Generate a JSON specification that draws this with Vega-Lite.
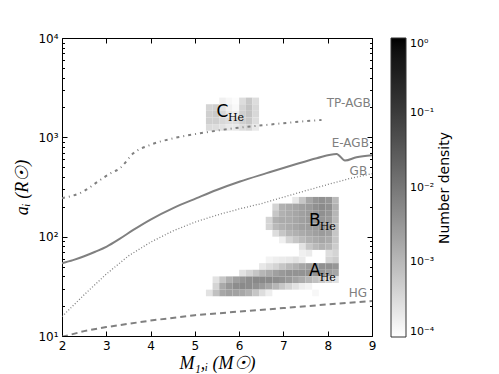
{
"$schema": "https://vega.github.io/schema/vega-lite/v6.json",
"width": 310, "height": 298,
"autosize": {"type": "none"},
"padding": {"left": 62, "top": 38, "right": 127, "bottom": 38},
"background": "#ffffff",
"config": {"view": {"stroke": "#000000", "strokeWidth": 1}, "font": "DejaVu Sans"},
"datasets": {
"cols": [{"c":0,"m0":5.25,"m1":5.4},{"c":1,"m0":5.4,"m1":5.55},{"c":2,"m0":5.55,"m1":5.7},{"c":3,"m0":5.7,"m1":5.85},{"c":4,"m0":5.85,"m1":6.0},{"c":5,"m0":6.0,"m1":6.15},{"c":6,"m0":6.15,"m1":6.3},{"c":7,"m0":6.3,"m1":6.45},{"c":8,"m0":6.45,"m1":6.6},{"c":9,"m0":6.6,"m1":6.75},{"c":10,"m0":6.75,"m1":6.9},{"c":11,"m0":6.9,"m1":7.05},{"c":12,"m0":7.05,"m1":7.2},{"c":13,"m0":7.2,"m1":7.35},{"c":14,"m0":7.35,"m1":7.5},{"c":15,"m0":7.5,"m1":7.65},{"c":16,"m0":7.65,"m1":7.8},{"c":17,"m0":7.8,"m1":7.95},{"c":18,"m0":7.95,"m1":8.1},{"c":19,"m0":8.1,"m1":8.25}],
"rows": [{"r":-9,"a0":25.12,"a1":29.29},{"r":-8,"a0":29.29,"a1":34.15},{"r":-7,"a0":34.15,"a1":39.81},{"r":-6,"a0":39.81,"a1":46.42},{"r":-5,"a0":46.42,"a1":54.12},{"r":-4,"a0":54.12,"a1":63.1},{"r":-3,"a0":63.1,"a1":73.56},{"r":-2,"a0":73.56,"a1":85.77},{"r":-1,"a0":85.77,"a1":100},{"r":0,"a0":100,"a1":116.6},{"r":1,"a0":116.6,"a1":135.9},{"r":2,"a0":135.9,"a1":158.5},{"r":3,"a0":158.5,"a1":184.8},{"r":4,"a0":184.8,"a1":215.4},{"r":5,"a0":215.4,"a1":251.2},{"r":16,"a0":1166,"a1":1359},{"r":17,"a0":1359,"a1":1585},{"r":18,"a0":1585,"a1":1848},{"r":19,"a0":1848,"a1":2154},{"r":20,"a0":2154,"a1":2512}],
"cells": [
{"c":2,"r":20,"d":0.00016},{"c":3,"r":20,"d":0.00013},{"c":4,"r":20,"d":0.00011},{"c":5,"r":20,"d":0.0003},{"c":6,"r":20,"d":0.0006},{"c":7,"r":20,"d":0.0003},
{"c":0,"r":19,"d":0.0004},{"c":1,"r":19,"d":0.00048},{"c":2,"r":19,"d":0.00025},{"c":3,"r":19,"d":0.00016},{"c":4,"r":19,"d":0.00012},{"c":5,"r":19,"d":0.0004},{"c":6,"r":19,"d":0.0007},{"c":7,"r":19,"d":0.00035},
{"c":0,"r":18,"d":0.00048},{"c":1,"r":18,"d":0.00058},{"c":2,"r":18,"d":0.00035},{"c":3,"r":18,"d":0.0002},{"c":4,"r":18,"d":0.00017},{"c":5,"r":18,"d":0.00048},{"c":6,"r":18,"d":0.0007},{"c":7,"r":18,"d":0.00035},
{"c":0,"r":17,"d":0.00048},{"c":1,"r":17,"d":0.00048},{"c":2,"r":17,"d":0.00035},{"c":3,"r":17,"d":0.0003},{"c":4,"r":17,"d":0.0003},{"c":5,"r":17,"d":0.00048},{"c":6,"r":17,"d":0.0006},{"c":7,"r":17,"d":0.0003},
{"c":0,"r":16,"d":0.00032},{"c":1,"r":16,"d":0.0003},{"c":2,"r":16,"d":0.00025},{"c":3,"r":16,"d":0.0002},{"c":4,"r":16,"d":0.0002},{"c":5,"r":16,"d":0.0003},{"c":6,"r":16,"d":0.00035},{"c":7,"r":16,"d":0.0002},
{"c":13,"r":5,"d":0.00021},{"c":14,"r":5,"d":0.00063},{"c":15,"r":5,"d":0.0019},{"c":16,"r":5,"d":0.0033},{"c":17,"r":5,"d":0.004},{"c":18,"r":5,"d":0.0033},{"c":19,"r":5,"d":0.001},
{"c":10,"r":4,"d":0.0004},{"c":11,"r":4,"d":0.0013},{"c":12,"r":4,"d":0.0016},{"c":13,"r":4,"d":0.0019},{"c":14,"r":4,"d":0.0023},{"c":15,"r":4,"d":0.00275},{"c":16,"r":4,"d":0.004},{"c":17,"r":4,"d":0.0048},{"c":18,"r":4,"d":0.004},{"c":19,"r":4,"d":0.0013},
{"c":10,"r":3,"d":0.00063},{"c":11,"r":3,"d":0.0013},{"c":12,"r":3,"d":0.0016},{"c":13,"r":3,"d":0.0019},{"c":14,"r":3,"d":0.0023},{"c":15,"r":3,"d":0.00275},{"c":16,"r":3,"d":0.0033},{"c":17,"r":3,"d":0.004},{"c":18,"r":3,"d":0.0033},{"c":19,"r":3,"d":0.0011},
{"c":9,"r":2,"d":0.0004},{"c":10,"r":2,"d":0.0013},{"c":11,"r":2,"d":0.0016},{"c":12,"r":2,"d":0.0016},{"c":13,"r":2,"d":0.0019},{"c":14,"r":2,"d":0.0023},{"c":15,"r":2,"d":0.00275},{"c":16,"r":2,"d":0.0033},{"c":17,"r":2,"d":0.0033},{"c":18,"r":2,"d":0.00275},{"c":19,"r":2,"d":0.001},
{"c":9,"r":1,"d":0.0004},{"c":10,"r":1,"d":0.001},{"c":11,"r":1,"d":0.0013},{"c":12,"r":1,"d":0.0016},{"c":13,"r":1,"d":0.0019},{"c":14,"r":1,"d":0.0023},{"c":15,"r":1,"d":0.0025},{"c":16,"r":1,"d":0.00275},{"c":17,"r":1,"d":0.0033},{"c":18,"r":1,"d":0.0025},{"c":19,"r":1,"d":0.00076},
{"c":10,"r":0,"d":0.0003},{"c":11,"r":0,"d":0.00063},{"c":12,"r":0,"d":0.0011},{"c":13,"r":0,"d":0.0013},{"c":14,"r":0,"d":0.0016},{"c":15,"r":0,"d":0.0019},{"c":16,"r":0,"d":0.0023},{"c":17,"r":0,"d":0.00275},{"c":18,"r":0,"d":0.0023},{"c":19,"r":0,"d":0.00063},
{"c":11,"r":-1,"d":0.00016},{"c":12,"r":-1,"d":0.0004},{"c":13,"r":-1,"d":0.00063},{"c":14,"r":-1,"d":0.00091},{"c":15,"r":-1,"d":0.0013},{"c":16,"r":-1,"d":0.0016},{"c":17,"r":-1,"d":0.0019},{"c":18,"r":-1,"d":0.0016},{"c":19,"r":-1,"d":0.00063},
{"c":14,"r":-2,"d":0.00025},{"c":15,"r":-2,"d":0.00063},{"c":16,"r":-2,"d":0.001},{"c":17,"r":-2,"d":0.0013},{"c":18,"r":-2,"d":0.0011},{"c":19,"r":-2,"d":0.00052},
{"c":14,"r":-3,"d":0.00016},{"c":15,"r":-3,"d":0.00019},{"c":18,"r":-3,"d":0.0003},{"c":19,"r":-3,"d":0.0004},
{"c":9,"r":-4,"d":0.000145},{"c":10,"r":-4,"d":0.00017},{"c":11,"r":-4,"d":0.00019},{"c":12,"r":-4,"d":0.00021},{"c":13,"r":-4,"d":0.00025},{"c":14,"r":-4,"d":0.00019},{"c":18,"r":-4,"d":0.0004},{"c":19,"r":-4,"d":0.00052},
{"c":8,"r":-5,"d":0.00021},{"c":9,"r":-5,"d":0.0003},{"c":10,"r":-5,"d":0.0004},{"c":11,"r":-5,"d":0.00063},{"c":12,"r":-5,"d":0.001},{"c":13,"r":-5,"d":0.0013},{"c":14,"r":-5,"d":0.0019},{"c":15,"r":-5,"d":0.0025},{"c":16,"r":-5,"d":0.003},{"c":17,"r":-5,"d":0.004},{"c":18,"r":-5,"d":0.004},{"c":19,"r":-5,"d":0.0033},
{"c":5,"r":-6,"d":0.00025},{"c":6,"r":-6,"d":0.0004},{"c":7,"r":-6,"d":0.00063},{"c":8,"r":-6,"d":0.0011},{"c":9,"r":-6,"d":0.0016},{"c":10,"r":-6,"d":0.0023},{"c":11,"r":-6,"d":0.003},{"c":12,"r":-6,"d":0.0037},{"c":13,"r":-6,"d":0.0037},{"c":14,"r":-6,"d":0.0037},{"c":15,"r":-6,"d":0.0037},{"c":16,"r":-6,"d":0.0037},{"c":17,"r":-6,"d":0.0033},{"c":18,"r":-6,"d":0.0025},{"c":19,"r":-6,"d":0.0019},
{"c":1,"r":-7,"d":0.00025},{"c":2,"r":-7,"d":0.00063},{"c":3,"r":-7,"d":0.0014},{"c":4,"r":-7,"d":0.0024},{"c":5,"r":-7,"d":0.0034},{"c":6,"r":-7,"d":0.0045},{"c":7,"r":-7,"d":0.0052},{"c":8,"r":-7,"d":0.0052},{"c":9,"r":-7,"d":0.005},{"c":10,"r":-7,"d":0.0045},{"c":11,"r":-7,"d":0.0038},{"c":12,"r":-7,"d":0.003},{"c":13,"r":-7,"d":0.0022},{"c":14,"r":-7,"d":0.0016},{"c":15,"r":-7,"d":0.0011},{"c":16,"r":-7,"d":0.00076},{"c":17,"r":-7,"d":0.00052},{"c":18,"r":-7,"d":0.00036},{"c":19,"r":-7,"d":0.00025},
{"c":1,"r":-8,"d":0.0004},{"c":2,"r":-8,"d":0.0017},{"c":3,"r":-8,"d":0.0032},{"c":4,"r":-8,"d":0.0045},{"c":5,"r":-8,"d":0.005},{"c":6,"r":-8,"d":0.0045},{"c":7,"r":-8,"d":0.0038},{"c":8,"r":-8,"d":0.0028},{"c":9,"r":-8,"d":0.0018},{"c":10,"r":-8,"d":0.0011},{"c":11,"r":-8,"d":0.00063},{"c":12,"r":-8,"d":0.0004},{"c":13,"r":-8,"d":0.00025},{"c":14,"r":-8,"d":0.00017},{"c":15,"r":-8,"d":0.000145},
{"c":0,"r":-9,"d":0.00025},{"c":1,"r":-9,"d":0.00076},{"c":2,"r":-9,"d":0.0018},{"c":3,"r":-9,"d":0.0023},{"c":4,"r":-9,"d":0.0022},{"c":5,"r":-9,"d":0.0018},{"c":6,"r":-9,"d":0.0013},{"c":7,"r":-9,"d":0.00063},{"c":8,"r":-9,"d":0.0003},{"c":9,"r":-9,"d":0.00017},{"c":16,"r":-9,"d":0.00013}
],
"curves": [
{"s":"HG","m":2.0,"a":9.8},{"s":"HG","m":2.5,"a":11.2},{"s":"HG","m":3.0,"a":12.3},{"s":"HG","m":4.0,"a":14.3},{"s":"HG","m":5.0,"a":16.2},{"s":"HG","m":6.0,"a":17.6},{"s":"HG","m":7.0,"a":19.1},{"s":"HG","m":8.0,"a":20.8},{"s":"HG","m":9.0,"a":22.5},
{"s":"GB","m":2.0,"a":15.7},{"s":"GB","m":2.5,"a":26},{"s":"GB","m":3.0,"a":42},{"s":"GB","m":3.5,"a":64},{"s":"GB","m":4.0,"a":88},{"s":"GB","m":4.5,"a":114},{"s":"GB","m":5.0,"a":140},{"s":"GB","m":5.5,"a":165},{"s":"GB","m":6.0,"a":190},{"s":"GB","m":6.5,"a":215},{"s":"GB","m":7.0,"a":250},{"s":"GB","m":7.5,"a":290},{"s":"GB","m":8.0,"a":335},{"s":"GB","m":8.5,"a":385},{"s":"GB","m":9.0,"a":430},
{"s":"EAGB","m":2.0,"a":54},{"s":"EAGB","m":2.25,"a":58},{"s":"EAGB","m":2.5,"a":63.5},{"s":"EAGB","m":2.75,"a":70.5},{"s":"EAGB","m":3.01,"a":79.5},{"s":"EAGB","m":3.3,"a":95},{"s":"EAGB","m":3.61,"a":117},{"s":"EAGB","m":3.99,"a":148},{"s":"EAGB","m":4.51,"a":194},{"s":"EAGB","m":5.04,"a":244},{"s":"EAGB","m":5.49,"a":295},{"s":"EAGB","m":6.02,"a":359},{"s":"EAGB","m":6.62,"a":436},{"s":"EAGB","m":7.22,"a":527},{"s":"EAGB","m":7.75,"a":617},{"s":"EAGB","m":8.2,"a":681},{"s":"EAGB","m":8.39,"a":584},{"s":"EAGB","m":8.65,"a":630},{"s":"EAGB","m":9.0,"a":660},
{"s":"TPAGB","m":2.0,"a":244},{"s":"TPAGB","m":2.48,"a":285},{"s":"TPAGB","m":2.86,"a":372},{"s":"TPAGB","m":3.08,"a":430},{"s":"TPAGB","m":3.31,"a":489},{"s":"TPAGB","m":3.61,"a":690},{"s":"TPAGB","m":3.99,"a":838},{"s":"TPAGB","m":4.51,"a":977},{"s":"TPAGB","m":5.12,"a":1099},{"s":"TPAGB","m":5.87,"a":1232},{"s":"TPAGB","m":6.62,"a":1334},{"s":"TPAGB","m":7.37,"a":1439},{"s":"TPAGB","m":7.86,"a":1496}
],
"glabels": [
{"t":"TP-AGB","m":8.97,"a":2204},{"t":"E-AGB","m":8.93,"a":871},{"t":"GB","m":8.89,"a":462},{"t":"HG","m":8.89,"a":27}
],
"letters": [
{"t":"C","m":5.62,"a":1815},{"t":"B","m":7.71,"a":145},{"t":"A","m":7.71,"a":44.6}
],
"subs": [
{"t":"He","m":5.93,"a":1580},{"t":"He","m":8.0,"a":125},{"t":"He","m":8.0,"a":38.8}
]
},
"layer": [
{
"data": {"name": "cells"},
"transform": [
{"lookup": "c", "from": {"data": {"name": "cols"}, "key": "c", "fields": ["m0", "m1"]}},
{"lookup": "r", "from": {"data": {"name": "rows"}, "key": "r", "fields": ["a0", "a1"]}}
],
"mark": {"type": "rect"},
"encoding": {
"x": {"field": "m0", "type": "quantitative", "scale": {"domain": [2, 9], "nice": false, "zero": false},
"axis": {"orient": "bottom", "title": "M₁,ᵢ (M☉)", "values": [2,3,4,5,6,7,8,9], "tickSize": -5, "tickColor": "#000", "labelPadding": 9, "labelFlush": false, "labelFontSize": 12, "labelColor": "#000", "labelFont": "DejaVu Sans", "domain": false, "grid": false, "titleFont": "Liberation Serif", "titleFontStyle": "italic", "titleFontWeight": "normal", "titleFontSize": 18, "titleColor": "#000", "titlePadding": 3}},
"x2": {"field": "m1"},
"y": {"field": "a0", "type": "quantitative", "scale": {"type": "log", "domain": [10, 10000], "nice": false},
"axis": {"orient": "left", "title": "aᵢ (R☉)", "values": [10,20,30,40,50,60,70,80,90,100,200,300,400,500,600,700,800,900,1000,2000,3000,4000,5000,6000,7000,8000,9000,10000],
"labelExpr": "datum.value == 10 ? '10¹' : datum.value == 100 ? '10²' : datum.value == 1000 ? '10³' : datum.value == 10000 ? '10⁴' : ''",
"tickSize": {"condition": {"test": "datum.value == 10 || datum.value == 100 || datum.value == 1000 || datum.value == 10000", "value": -5}, "value": -2.5},
"tickColor": "#000", "labelPadding": 9, "labelFlush": false, "labelFontSize": 12, "labelColor": "#000", "labelFont": "DejaVu Sans", "domain": false, "grid": false, "titleFont": "Liberation Serif", "titleFontStyle": "italic", "titleFontWeight": "normal", "titleFontSize": 18, "titleColor": "#000", "titlePadding": 6}},
"y2": {"field": "a1"},
"color": {"field": "d", "type": "quantitative", "scale": {"type": "log", "domain": [0.0001, 1], "range": ["#ffffff", "#000000"]},
"legend": {"type": "gradient", "orient": "none", "legendX": 329, "legendY": 0, "direction": "vertical", "gradientLength": 299, "gradientThickness": 15, "gradientStrokeColor": "#333", "gradientStrokeWidth": 1, "values": [0.0001, 0.001, 0.01, 0.1, 1],
"labelExpr": "datum.value > 0.5 ? '10⁰' : datum.value > 0.05 ? '10⁻¹' : datum.value > 0.005 ? '10⁻²' : datum.value > 0.0005 ? '10⁻³' : '10⁻⁴'",
"labelFontSize": 11, "labelColor": "#000", "labelFont": "DejaVu Sans", "labelOffset": 4, "labelOverlap": false,
"title": "Number density", "titleOrient": "right", "titleFontSize": 14, "titleFontWeight": "normal", "titleFont": "DejaVu Sans", "titleColor": "#000", "titleAnchor": "middle", "titlePadding": 4,
"encode": {"title": {"update": {"angle": {"value": -90}, "baseline": {"value": "top"}}}}}}
}
},
{
"data": {"name": "curves"},
"transform": [{"filter": "datum.s == 'HG'"}],
"mark": {"type": "line", "color": "#808080", "strokeWidth": 2, "strokeDash": [6, 4], "clip": true},
"encoding": {
"x": {"field": "m", "type": "quantitative", "scale": {"domain": [2, 9], "nice": false, "zero": false},
"axis": {"orient": "top", "title": null, "values": [2,3,4,5,6,7,8,9], "labels": false, "tickSize": -5, "tickColor": "#000", "domain": false, "grid": false}},
"y": {"field": "a", "type": "quantitative", "scale": {"type": "log", "domain": [10, 10000], "nice": false},
"axis": {"orient": "right", "title": null, "labels": false, "values": [10,20,30,40,50,60,70,80,90,100,200,300,400,500,600,700,800,900,1000,2000,3000,4000,5000,6000,7000,8000,9000,10000],
"tickSize": {"condition": {"test": "datum.value == 10 || datum.value == 100 || datum.value == 1000 || datum.value == 10000", "value": -5}, "value": -2.5},
"tickColor": "#000", "domain": false, "grid": false}}
}
},
{
"data": {"name": "curves"},
"transform": [{"filter": "datum.s == 'GB'"}],
"mark": {"type": "line", "color": "#808080", "strokeWidth": 1.3, "strokeDash": [1, 2], "clip": true},
"encoding": {
"x": {"field": "m", "type": "quantitative", "scale": {"domain": [2, 9], "nice": false, "zero": false}, "axis": null},
"y": {"field": "a", "type": "quantitative", "scale": {"type": "log", "domain": [10, 10000], "nice": false}, "axis": null}
}
},
{
"data": {"name": "curves"},
"transform": [{"filter": "datum.s == 'EAGB'"}],
"mark": {"type": "line", "color": "#808080", "strokeWidth": 2, "clip": true, "interpolate": "monotone"},
"encoding": {
"x": {"field": "m", "type": "quantitative", "scale": {"domain": [2, 9], "nice": false, "zero": false}, "axis": null},
"y": {"field": "a", "type": "quantitative", "scale": {"type": "log", "domain": [10, 10000], "nice": false}, "axis": null}
}
},
{
"data": {"name": "curves"},
"transform": [{"filter": "datum.s == 'TPAGB'"}],
"mark": {"type": "line", "color": "#808080", "strokeWidth": 2, "strokeDash": [3, 4, 1, 4], "clip": true, "interpolate": "monotone"},
"encoding": {
"x": {"field": "m", "type": "quantitative", "scale": {"domain": [2, 9], "nice": false, "zero": false}, "axis": null},
"y": {"field": "a", "type": "quantitative", "scale": {"type": "log", "domain": [10, 10000], "nice": false}, "axis": null}
}
},
{
"data": {"name": "glabels"},
"mark": {"type": "text", "color": "#808080", "fontSize": 12, "font": "DejaVu Sans", "align": "right", "baseline": "middle"},
"encoding": {
"x": {"field": "m", "type": "quantitative", "scale": {"domain": [2, 9], "nice": false, "zero": false}, "axis": null},
"y": {"field": "a", "type": "quantitative", "scale": {"type": "log", "domain": [10, 10000], "nice": false}, "axis": null},
"text": {"field": "t"}
}
},
{
"data": {"name": "letters"},
"mark": {"type": "text", "color": "#000000", "fontSize": 17, "font": "DejaVu Sans", "align": "center", "baseline": "middle"},
"encoding": {
"x": {"field": "m", "type": "quantitative", "scale": {"domain": [2, 9], "nice": false, "zero": false}, "axis": null},
"y": {"field": "a", "type": "quantitative", "scale": {"type": "log", "domain": [10, 10000], "nice": false}, "axis": null},
"text": {"field": "t"}
}
},
{
"data": {"name": "subs"},
"mark": {"type": "text", "color": "#000000", "fontSize": 11, "font": "DejaVu Serif", "align": "center", "baseline": "middle"},
"encoding": {
"x": {"field": "m", "type": "quantitative", "scale": {"domain": [2, 9], "nice": false, "zero": false}, "axis": null},
"y": {"field": "a", "type": "quantitative", "scale": {"type": "log", "domain": [10, 10000], "nice": false}, "axis": null},
"text": {"field": "t"}
}
}
],
"resolve": {"axis": {"x": "independent", "y": "independent"}}
}
